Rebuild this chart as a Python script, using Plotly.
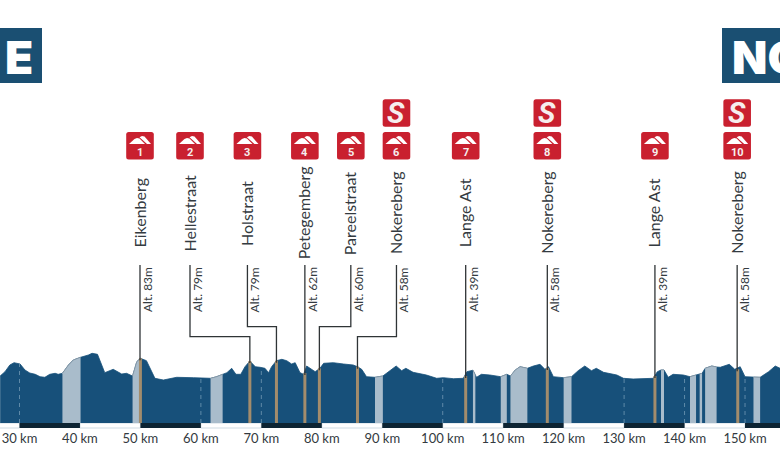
import numpy as np
import plotly.graph_objects as go

profile_km = [26.8,27.6,28.4,29.1,30.1,30.9,31.7,32.6,33.4,34.2,35.0,35.9,36.4,37.1,38.1,38.9,40.1,40.6,41.4,42.0,42.9,43.6,44.1,45.5,46.9,47.7,48.7,49.4,50.0,51.0,51.7,52.4,53.8,56.0,58.8,61.6,62.6,63.6,64.3,65.1,65.8,66.6,67.3,68.1,69.0,
69.8,70.6,71.2,71.7,72.5,73.4,74.2,75.0,75.6,76.4,77.0,77.5,78.9,79.7,80.3,81.9,83.6,85.2,85.9,86.6,87.4,88.8,90.1,91.3,92.3,93.2,93.9,95.1,97.3,99.0,100.1,101.8,103.4,104.0,105.0,105.4,105.6,106.4,107.8,109.6,110.6,111.2,112.0,
112.8,114.0,115.0,116.1,116.9,117.5,118.3,120.0,121.3,122.4,123.5,124.6,125.4,126.6,128.8,129.9,131.5,134.8,135.5,136.1,136.6,137.3,138.1,139.8,140.9,141.9,142.5,142.9,143.4,144.5,145.3,145.9,147.4,148.3,149.2,150.0,151.4,152.5,153.9,155.0,155.8]
profile_h = [47,51.3,58,60.3,59,53,50,48.7,46.3,45.7,48.7,49.7,48.7,49.7,58,63,65.7,66.3,68,69.7,68.7,58,50.3,53.7,49,49.7,47,61.3,64.7,62.3,53,44.7,43,45.7,45.3,44.7,46.3,48.7,50.3,54.7,48.7,48.7,56.3,62,56.3,
55.7,54.7,50.3,56.3,62.3,63.7,62.3,59,60.3,50.3,48.7,57,51.3,54.7,59.7,60.3,59,58,56.3,53.7,46.3,45.7,47,52.3,57,52.3,54.7,50.7,48,44.7,45.3,44.3,44.7,51.3,52.8,48,45.7,48.7,48,46.3,48.7,47,53,
56.3,54.7,57,58.7,53.7,56.3,46.3,45.3,46.3,52.3,57,52.3,54.7,50.7,48,44.7,44,44.7,51.3,53,53,45.7,48.7,48,46.3,48,49,49.7,54.7,57,56,55.7,58.7,53.7,56.3,46.3,45.9,45.7,51.3,57,54.7]

light_start = [37.1,48.7,61.6,88.8,105.0,109.6,111.2,120.0,136.1,140.9,142.5,143.4,151.4]
light_end = [40.1,50.0,63.6,90.1,105.4,110.6,114.0,121.3,136.6,141.9,142.9,145.3,152.5]

gap_km = [30,60,70,100,130,140,150]
gap_h = [59,45,55,45,44.5,48,46]

climb_names = ["Eikenberg","Hellestraat","Holstraat","Petegemberg","Pareelstraat","Nokereberg","Lange Ast","Nokereberg","Lange Ast","Nokereberg"]
climb_alt = ["Alt. 83m","Alt. 79m","Alt. 79m","Alt. 62m","Alt. 60m","Alt. 58m","Alt. 39m","Alt. 58m","Alt. 39m","Alt. 58m"]
climb_no = ["1","2","3","4","5","6","7","8","9","10"]
label_km = [49.93,58.2,67.7,77.2,84.8,92.35,103.8,117.3,135.1,148.7]
foot_km = [50.0,68.1,72.5,77.2,79.6,85.9,103.8,117.3,135.1,148.8]
foot_h = [64.7,62,62.3,50,54.7,56.3,47,55,47,53.7]
elbow_px = [None,336.7,326.7,None,326.7,336.7,None,None,None,None]
sprint_climbs = ["6","8","10"]

tick_km = [30,40,50,60,70,80,90,100,110,120,130,140,150]
tick_text = [f"{k} km" for k in tick_km]
band_dark = [35,55,75,95,115,135,155]
band_light = [25,45,65,85,105,125,145]

DARK = "#17507a"
LIGHT = "#a9bccb"
TAN = "#a38c6c"
NAVY = "#0d2433"
RED = "#c9202f"
PANEL = "#1a4f72"
INK = "#333a40"
FONT = "Lato"

PX_PER_KM = 6.046
KM0 = 26.775
W, H, BASE = 780, 470, 423
km = np.array(profile_km)
h = np.array(profile_h)

def X(px):
    return KM0 + px / PX_PER_KM

def Y(px):
    return BASE - px

fig = go.Figure()
fig.add_bar(x=band_light, y=[5]*len(band_light), base=-5, width=10,
            marker=dict(color="#ffffff", line=dict(color="#cfdbe3", width=1)))
fig.add_bar(x=band_dark, y=[5]*len(band_dark), base=-5, width=10,
            marker=dict(color=NAVY, line=dict(width=0)))
fig.add_scatter(x=km, y=h, mode="lines", fill="tozeroy", fillcolor=DARK,
                line=dict(color=DARK, width=0.8))
for a, b in zip(light_start, light_end):
    m = (km >= a - 1e-6) & (km <= b + 1e-6)
    fig.add_scatter(x=km[m], y=h[m], mode="lines", fill="tozeroy", fillcolor=LIGHT,
                    line=dict(color="#8d9ba6", width=0.8))
for k, t in zip(gap_km, gap_h):
    fig.add_scatter(x=[k, k], y=[0, t], mode="lines",
                    line=dict(color="#5f8aa8", width=1, dash="4px,4px"))
for k, t in zip(foot_km, foot_h):
    fig.add_scatter(x=[k, k], y=[0, t], mode="lines", line=dict(color=TAN, width=3))

TOP = Y(265)
for lk, fk, fh, e in zip(label_km, foot_km, foot_h, elbow_px):
    if e is None:
        xs, ys = [lk, lk], [TOP, fh - 2]
    else:
        xs, ys = [lk, lk, fk, fk], [TOP, Y(e), Y(e), fh - 2]
    fig.add_scatter(x=xs, y=ys, mode="lines", line=dict(color="#2f3436", width=1.3))

shapes, ann = [], []

def badge(cx_km, top_px, size=27.6, r=2.5):
    cx = cx_km * PX_PER_KM - KM0 * PX_PER_KM
    x0, x1 = cx - size/2, cx + size/2
    y0, y1 = top_px, top_px + size
    p = (f"M {X(x0+r)} {Y(y0)} L {X(x1-r)} {Y(y0)} Q {X(x1)} {Y(y0)} {X(x1)} {Y(y0+r)} "
         f"L {X(x1)} {Y(y1-r)} Q {X(x1)} {Y(y1)} {X(x1-r)} {Y(y1)} "
         f"L {X(x0+r)} {Y(y1)} Q {X(x0)} {Y(y1)} {X(x0)} {Y(y1-r)} "
         f"L {X(x0)} {Y(y0+r)} Q {X(x0)} {Y(y0)} {X(x0+r)} {Y(y0)} Z")
    shapes.append(dict(type="path", path=p, xref="x", yref="y", fillcolor=RED, line=dict(width=0)))
    return cx

def mountains(cx, top_px):
    pts = [[(-11,12),(-5.5,7),(-3,6),(-0.5,6.5),(5,12)],
           [(-0.5,5.2),(2,4),(4.5,4.5),(11,12),(7,12)]]
    for poly in pts:
        p = "M " + " L ".join(f"{X(cx+a)} {Y(top_px+b)}" for a, b in poly) + " Z"
        shapes.append(dict(type="path", path=p, xref="x", yref="y", fillcolor="#ffffff", line=dict(width=0)))

for name, alt, no, lk in zip(climb_names, climb_alt, climb_no, label_km):
    cx = badge(lk, 132)
    mountains(cx, 132)
    ann.append(dict(x=lk, y=Y(152), text=f"<b>{no}</b>", showarrow=False, xanchor="center", yanchor="middle",
                    font=dict(family="Roboto", size=11, color="#f6eeee")))
    ann.append(dict(x=lk, y=Y(213), text=name, textangle=-90, showarrow=False, xanchor="center", yanchor="middle",
                    xshift=-1.5, font=dict(family=FONT, size=16, color=INK)))
    ann.append(dict(x=lk, y=TOP, text=alt, textangle=-90, showarrow=False, xanchor="left", yanchor="top",
                    xshift=-2, font=dict(family=FONT, size=12, color=INK)))
    if no in sprint_climbs:
        badge(lk, 99.2)
        ann.append(dict(x=lk, y=Y(113), text="<b><i>S</i></b>", showarrow=False, xanchor="center", yanchor="middle",
                        font=dict(family="Roboto", size=29, weight=900, color="#f6eeee")))

# Title panels, running off the page at both sides
shapes.append(dict(type="rect", xref="x", yref="y", x0=X(0), x1=X(42), y0=Y(28), y1=Y(83),
                   fillcolor=PANEL, line=dict(width=0), layer="below"))
shapes.append(dict(type="rect", xref="x", yref="y", x0=X(722), x1=X(780), y0=Y(28), y1=Y(83),
                   fillcolor=PANEL, line=dict(width=0), layer="below"))
ann.append(dict(x=X(35), y=Y(56.5), text="E", showarrow=False, xanchor="right", yanchor="middle",
                font=dict(family="Inter", size=46, weight=900, color="#ffffff")))
ann.append(dict(x=X(730), y=Y(56.5), text="NO", showarrow=False, xanchor="left", yanchor="middle",
                font=dict(family="Inter", size=46, weight=900, color="#ffffff")))

fig.update_layout(
    width=W, height=H, margin=dict(l=0, r=0, t=0, b=0), showlegend=False,
    paper_bgcolor="#ffffff", plot_bgcolor="#ffffff", barmode="overlay",
    shapes=shapes, annotations=ann,
    xaxis=dict(range=[X(0), X(W)], showgrid=False, zeroline=False, showline=False,
               tickmode="array", tickvals=tick_km, ticktext=tick_text, ticks="", ticklen=0,
               anchor="free", position=(H - 429) / H,
               tickfont=dict(family=FONT, size=13, color=INK)),
    yaxis=dict(range=[Y(H), Y(0)], visible=False, showgrid=False, zeroline=False),
)
fig.write_html("out.html", config={"displayModeBar": False},
               post_script="document.body.style.margin='0';document.documentElement.style.overflow='hidden';")
